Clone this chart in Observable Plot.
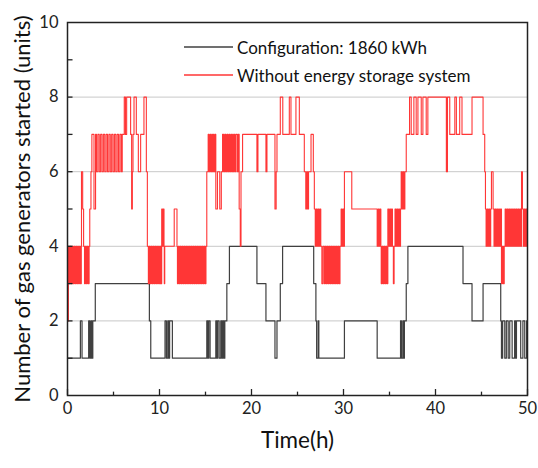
<!DOCTYPE html>
<html>
<head>
<meta charset="utf-8">
<script src="https://cdn.jsdelivr.net/npm/d3@7"></script>
<script src="https://cdn.jsdelivr.net/npm/@observablehq/plot@0.6"></script>
<style>
  html, body { margin: 0; padding: 0; background: #fff; }
  #wrap { position: relative; width: 538px; height: 468px; font-family: Lato, "Open Sans", sans-serif; }
  #legend { position: absolute; left: 0; top: 0; }
</style>
</head>
<body>
<div id="wrap"></div>
<script>
// ---- data: change points [time (h), units] for step curves ----
const seriesNames = ["Configuration: 1860 kWh", "Without energy storage system"];
const seriesColors = ["#404040", "#ff3636"];

const configSteps = [
  [0,1],[1.4,2],[1.58,1],[2.3,2],[2.43,1],[2.55,2],[2.65,1],[2.75,2],[3.02,3],
  [8.9,2],[9.05,1],[10.6,2],[10.75,1],[10.9,2],[11.0,1],[11.1,2],[11.4,1],
  [15.14,2],[15.25,1],[15.35,2],[15.5,1],[16.12,2],[16.22,1],[16.32,2],[16.48,1],
  [16.66,2],[16.78,1],[16.88,2],[17.0,1],[17.1,2],[17.32,3],[17.6,4],
  [20.59,3],[21.57,2],[22.55,1],[22.77,2],[23.13,3],[23.38,4],
  [26.76,3],[27.0,2],[27.08,1],[27.25,2],[27.32,1],[30.1,2],[33.66,1],
  [36.2,2],[36.3,1],[36.45,2],[36.55,1],[36.62,2],[36.82,3],[37.0,4],
  [42.99,3],[43.97,2],[45.17,3],[47.09,2],[47.17,1],[47.3,2],[47.53,1],
  [47.7,2],[47.9,1],[48.07,2],[48.33,1],[48.6,2],[48.7,1],[48.8,2],[49.26,1],
  [49.5,2],[49.7,1],[49.9,2],[50,2]
];

const noStorageSteps = [
  [0,2],[0.1,4],[0.2,3],[0.3,4],[0.4,3],[0.5,4],[0.6,3],[0.7,4],[0.8,3],[0.9,4],[1.0,3],[1.1,4],[1.2,3],[1.3,4],[1.4,3],
  [1.5,4],[1.52,6],[1.65,5],[1.75,4],
  [1.85,3],[1.95,4],[2.05,3],[2.15,4],[2.25,3],[2.35,4],
  [2.42,5],[2.55,6],[2.65,7],[2.88,5],[3.05,7],
  [3.15,6],[3.3,7],[3.45,6],[3.6,7],[3.75,6],[3.9,7],[4.05,6],[4.2,7],[4.35,6],[4.5,7],[4.65,6],[4.8,7],
  [4.95,6],[5.1,7],[5.25,6],[5.4,7],[5.55,6],[5.7,7],[5.85,6],[5.95,7],
  [6.17,8],[6.3,7],[6.43,8],[6.86,7],[6.97,5],[7.05,6],[7.12,7],[7.23,8],[7.48,7],[7.7,6],[7.95,7],[8.31,8],[8.57,6],[8.68,4],
  [8.79,3],[8.89,4],[8.99,3],[9.09,4],[9.19,3],[9.29,4],[9.39,3],[9.49,4],[9.59,3],[9.69,4],[9.79,3],[9.89,4],[9.99,3],[10.09,4],[10.16,3],
  [10.24,5],[10.32,4],[10.38,5],[10.49,4],[10.52,3],[10.57,4],
  [11.6,5],[11.9,4],
  [11.95,3],[12.05,4],[12.15,3],[12.25,4],[12.35,3],[12.45,4],[12.55,3],[12.65,4],[12.75,3],[12.85,4],[12.95,3],[13.05,4],
  [13.15,3],[13.25,4],[13.35,3],[13.45,4],[13.55,3],[13.65,4],[13.75,3],[13.85,4],[13.95,3],[14.05,4],[14.15,3],[14.25,4],
  [14.35,3],[14.45,4],[14.55,3],[14.65,4],[14.75,3],[14.85,4],[14.95,3],[15.05,4],
  [15.14,6],[15.29,7],[15.4,6],[15.52,7],[15.64,6],[15.76,7],[15.88,6],[16.0,7],[16.12,5],[16.3,6],[16.55,5],[16.72,6],
  [16.85,7],[16.97,6],[17.09,7],[17.21,6],[17.33,7],[17.45,6],[17.57,7],[17.69,6],[17.81,7],[17.93,6],[18.05,7],[18.17,6],
  [18.29,7],[18.45,6],[18.55,7],[18.66,5],[18.78,4],[18.86,6],[19.03,7],[20.59,6],[20.7,7],[21.57,6],[21.68,7],
  [22.55,5],[22.68,6],[22.77,7],[23.13,8],[23.4,7],[24.11,8],[24.29,7],[24.83,8],[25.2,7],[25.74,6],
  [25.9,5],[26.0,6],[26.1,5],[26.2,6],[26.3,6],[26.47,7],[26.72,6],
  [26.83,5],[26.93,4],[27.03,5],[27.13,4],[27.23,5],[27.33,4],[27.43,5],[27.53,4],[27.65,3],[27.78,4],
  [27.92,3],[28.02,4],[28.12,3],[28.22,4],[28.32,3],[28.42,4],[28.52,3],[28.62,4],[28.72,3],[28.82,4],[28.92,3],[29.02,4],
  [29.12,3],[29.22,4],[29.32,3],[29.42,4],[29.52,3],[29.62,4],
  [29.74,5],[29.84,4],[29.94,5],[30.02,4],[30.1,6],[30.9,5],
  [33.66,4],[33.76,5],[33.86,4],[33.96,5],[34.06,4],
  [34.1,3],[34.2,4],[34.3,3],[34.4,4],[34.5,3],[34.6,4],[34.7,3],
  [34.82,5],[34.92,4],[35.02,5],[35.12,4],[35.22,5],[35.32,4],[35.42,3],[35.5,4],[35.6,5],[35.7,4],[35.8,5],[35.9,4],
  [36.0,5],[36.1,4],[36.2,5],[36.27,6],[36.37,5],[36.47,6],[36.57,5],[36.67,6],[36.82,7],
  [37.18,8],[37.36,7],[37.65,8],[37.9,7],[38.09,8],[38.45,7],[38.63,8],[38.99,7],[39.17,8],
  [41.18,6],[41.3,8],[41.55,7],[42.1,8],[42.27,7],[42.63,8],[42.88,7],[43.97,8],
  [45.17,7],[45.35,6],[45.43,5],[45.5,4],[45.6,5],[45.7,4],[45.8,5],[45.9,4],[46.0,5],[46.08,6],[46.26,5],
  [46.36,4],[46.46,5],[46.56,4],[46.66,5],[46.76,4],[46.86,5],[46.96,4],[47.06,5],
  [47.17,3],[47.27,4],[47.37,3],[47.47,4],
  [47.57,5],[47.67,4],[47.77,5],[47.87,4],[47.97,5],[48.07,4],[48.17,5],[48.27,4],[48.37,5],[48.47,4],[48.57,5],[48.67,4],
  [48.77,5],[48.87,4],[48.97,5],[49.07,4],[49.17,5],[49.27,4],[49.35,6],[49.45,5],[49.55,4],[49.65,5],[49.75,4],
  [49.85,5],[49.95,4],[50,4]
];

const xTicks = [0, 10, 20, 30, 40, 50];
const xMinorTicks = [5, 15, 25, 35, 45];
const yTicks = [0, 2, 4, 6, 8, 10];
const yAllTicks = [1, 2, 3, 4, 5, 6, 7, 8, 9];
const gridValues = [2, 4, 6, 8];
const xTitle = "Time(h)";
const yTitle = "Number of gas generators started (units)";

// ---- build ----
const toRows = (steps) => steps.map(([t, v]) => ({t, v}));
const configRows = toRows(configSteps);
const noStorageRows = toRows(noStorageSteps);

const FONT = "Lato, 'Open Sans', sans-serif";

const chart = Plot.plot({
  width: 538,
  height: 468,
  marginTop: 22,
  marginBottom: 73,
  marginLeft: 67,
  marginRight: 11,
  style: {fontFamily: FONT, background: "#fff", color: "#222", overflow: "visible"},
  x: {domain: [0, 50]},
  y: {domain: [0, 10]},
  marks: [
    Plot.ruleY(gridValues, {stroke: "#c8c8c8", strokeWidth: 1}),
    Plot.line(configRows, {x: "t", y: "v", curve: "step-after", stroke: seriesColors[0], strokeWidth: 1.2}),
    Plot.line(noStorageRows, {x: "t", y: "v", curve: "step-after", stroke: seriesColors[1], strokeWidth: 1.1}),
    Plot.ruleX(xTicks, {y1: 0, y2: 0.16, stroke: "#222", strokeWidth: 1.3}),
    Plot.ruleX(xMinorTicks, {y1: 0, y2: 0.09, stroke: "#222", strokeWidth: 1.3}),
    Plot.ruleY(yAllTicks, {x1: 0, x2: 0.6, stroke: "#222", strokeWidth: 1.3}),
    Plot.axisX({ticks: xTicks, tickSize: 0, tickPadding: 7, fontSize: 16.5, label: null}),
    Plot.axisY({ticks: yTicks, tickSize: 0, tickPadding: 9, fontSize: 16.5, label: null}),
    Plot.frame({stroke: "#222", strokeWidth: 1.5}),
    Plot.text([xTitle], {frameAnchor: "bottom", dy: 52, fontSize: 22.5, fill: "#111"}),
    Plot.text([yTitle], {frameAnchor: "left", textAnchor: "middle", dx: -45, rotate: -90, fontSize: 22, fill: "#111"})
  ]
});

const wrap = document.getElementById("wrap");
wrap.appendChild(chart);

// legend overlay
const ns = "http://www.w3.org/2000/svg";
const leg = document.createElementNS(ns, "svg");
leg.setAttribute("id", "legend");
leg.setAttribute("width", 538);
leg.setAttribute("height", 100);
seriesNames.forEach((name, i) => {
  const y = 47 + i * 28;
  const ln = document.createElementNS(ns, "line");
  ln.setAttribute("x1", 184); ln.setAttribute("x2", 233);
  ln.setAttribute("y1", y); ln.setAttribute("y2", y);
  ln.setAttribute("stroke", seriesColors[i]); ln.setAttribute("stroke-width", 1.3);
  leg.appendChild(ln);
  const tx = document.createElementNS(ns, "text");
  tx.setAttribute("x", 237); tx.setAttribute("y", y);
  tx.setAttribute("dominant-baseline", "central");
  tx.setAttribute("font-family", FONT);
  tx.setAttribute("font-size", 17);
  tx.setAttribute("fill", "#111");
  tx.textContent = name;
  leg.appendChild(tx);
});
wrap.appendChild(leg);
</script>
</body>
</html>
